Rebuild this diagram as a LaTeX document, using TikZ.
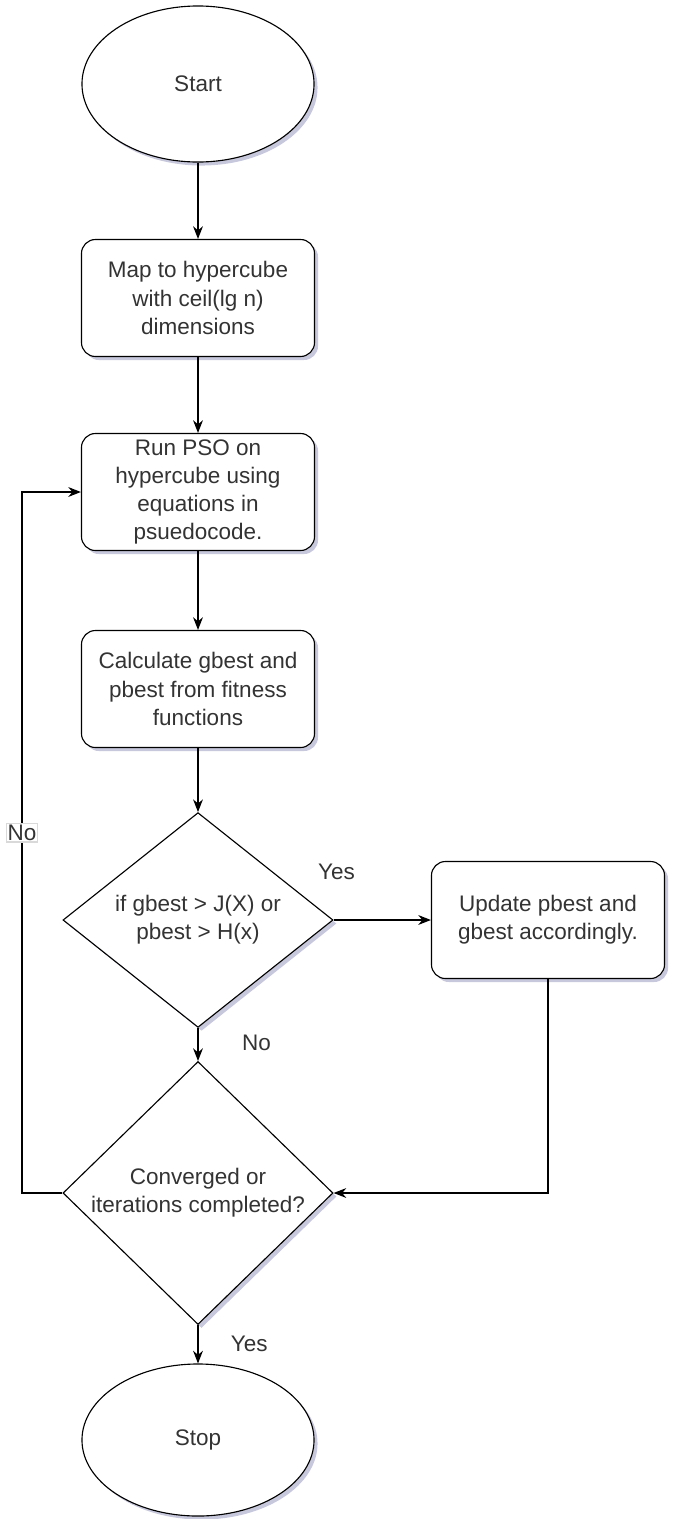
\documentclass[tikz,border=0pt]{standalone}
\usepackage{fontspec}
\setmainfont{Liberation Sans}
\usetikzlibrary{shapes.geometric,arrows.meta,shadows,positioning}

\begin{document}
\begin{tikzpicture}[x=0.025cm, y=-0.025cm,
  every node/.style={font=\fontsize{16}{20}\selectfont, text=black!80},
  shade/.style={drop shadow={shadow xshift=2.5pt, shadow yshift=-2.5pt, opacity=0.35, fill=blue!25!gray}},
  term/.style={ellipse, draw, line width=0.8pt, fill=white, shade, minimum width=5.8cm, minimum height=3.9cm},
  proc/.style={rectangle, rounded corners=10pt, draw, line width=0.8pt, fill=white, shade, minimum width=5.825cm, minimum height=2.925cm, align=center},
  cond/.style={diamond, draw, line width=0.8pt, fill=white, shade, minimum width=6.75cm, minimum height=4.8cm, inner sep=0pt, align=center},
  flow/.style={line width=0.8pt, -{Stealth[length=9pt, width=7pt]}},
  lbl/.style={inner sep=1pt}]

\useasboundingbox (0,0) rectangle (679,1519);

\node[term] (start) at (198,84) {Start};

\node[proc] (map) at (198,298) {Map to hypercube\\with ceil(lg n)\\dimensions};

\node[proc] (run) at (198,492) {Run PSO on\\hypercube using\\equations in\\psuedocode.};

\node[proc] (calc) at (198,689) {Calculate gbest and\\pbest from fitness\\functions};

\node[cond] (check) at (198,920) {if gbest > J(X) or\\pbest > H(x)};

\node[proc] (update) at (548,920) {Update pbest and\\gbest accordingly.};

\node[cond] (conv) at (198,1193) {Converged or\\iterations completed?};

\node[term, minimum height=3.8cm] (stop) at (198,1440) {Stop};

\coordinate (loop) at (22,1193);

\draw[flow] (start) -- (map);
\draw[flow] (map) -- (run);
\draw[flow] (run) -- (calc);
\draw[flow] (calc) -- (check);
\draw[flow] (check) -- node[lbl, pos=0.03, above=27pt] {Yes} (update);
\draw[flow] (check) -- node[lbl, right=30pt, pos=0.45] {No} (conv);
\draw[flow] (update.south) |- (conv.east);
\draw[flow] (conv.west) -- (loop) |- node[lbl, pos=0.257, fill=white, draw=gray!30] {No} (run.west);
\draw[flow] (conv) -- node[lbl, right=22pt, pos=0.5] {Yes} (stop);

\end{tikzpicture}
\end{document}
